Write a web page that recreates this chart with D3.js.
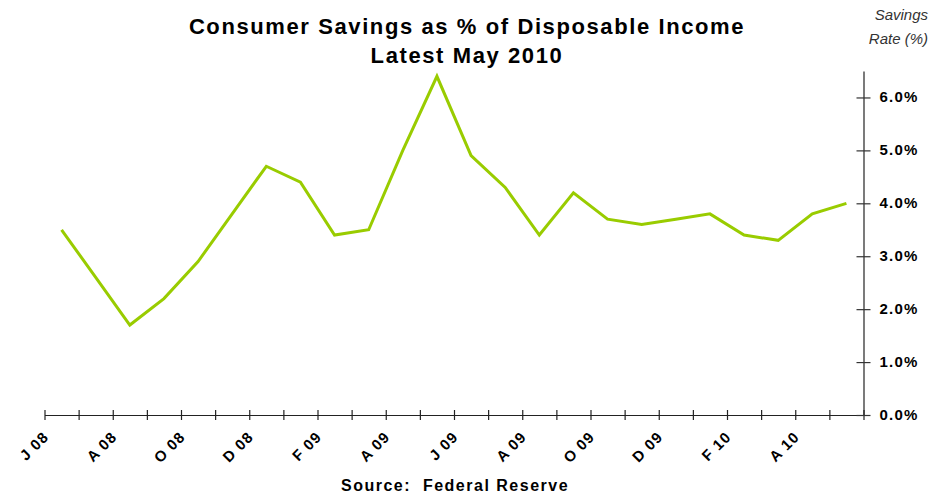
<!DOCTYPE html>
<html>
<head>
<meta charset="utf-8">
<script src="https://d3js.org/d3.v7.min.js"></script>
<style>
  body { margin: 0; background: #fff; font-family: Arial, 'Liberation Sans', sans-serif; }
</style>
</head>
<body>
<div id="chart"></div>
<script>
// monthly data, Jun 2008 - May 2010
const months = ["Jun 08","Jul 08","Aug 08","Sep 08","Oct 08","Nov 08","Dec 08","Jan 09","Feb 09","Mar 09","Apr 09","May 09",
                "Jun 09","Jul 09","Aug 09","Sep 09","Oct 09","Nov 09","Dec 09","Jan 10","Feb 10","Mar 10","Apr 10","May 10"];
const savingsRate = [3.5, 2.6, 1.7, 2.2, 2.9, 3.8, 4.7, 4.4, 3.4, 3.5, 5.0, 6.4,
                     4.9, 4.3, 3.4, 4.2, 3.7, 3.6, 3.7, 3.8, 3.4, 3.3, 3.8, 4.0];
const xLabels = ["J 08","A 08","O 08","D 08","F 09","A 09","J 09","A 09","O 09","D 09","F 10","A 10"];
const yTicks = [0, 1, 2, 3, 4, 5, 6];

const W = 931, H = 496;
const plot = {left: 44.5, right: 863.5, top: 71, bottom: 415};

const svg = d3.select("#chart").append("svg")
    .attr("width", W)
    .attr("height", H);

const x = d3.scaleBand()
    .domain(months)
    .range([plot.left, plot.right]);

const y = d3.scaleLinear()
    .domain([0, 6.5])
    .range([plot.bottom, plot.top]);

// x axis - ticks on month boundaries
const xb = d3.scaleLinear().domain([0, months.length]).range([plot.left, plot.right]);
svg.append("g")
    .attr("transform", `translate(0,${plot.bottom})`)
    .call(d3.axisBottom(xb).ticks(months.length).tickSize(0).tickFormat(""))
    .call(g => g.select(".domain").attr("stroke", "#222").attr("stroke-width", 1.2))
    .call(g => g.selectAll(".tick line").attr("y1", -5).attr("y2", 5).attr("stroke", "#222").attr("stroke-width", 1.2));

// month labels every other month
svg.append("g")
  .selectAll("text")
  .data(xLabels)
  .join("text")
    .attr("transform", (d, i) => `translate(${x(months[i * 2]) + x.bandwidth() / 2 - 12},${plot.bottom + 23}) rotate(-45)`)
    .attr("text-anchor", "end")
    .attr("font-size", 15)
    .attr("font-weight", "bold")
    .attr("letter-spacing", 1)
    .attr("fill", "#000")
    .text(d => d);

// y axis on right
svg.append("g")
    .attr("transform", `translate(${plot.right},0)`)
    .call(d3.axisRight(y).tickValues(yTicks).tickSize(0).tickFormat(""))
    .call(g => g.select(".domain").attr("stroke", "#222").attr("stroke-width", 1.2))
    .call(g => g.selectAll(".tick line").attr("x1", -7).attr("x2", 7).attr("stroke", "#333").attr("stroke-width", 1.2));

svg.append("g")
  .selectAll("text")
  .data(yTicks)
  .join("text")
    .attr("x", plot.right + 16)
    .attr("y", d => y(d) + 5)
    .attr("font-size", 15)
    .attr("font-weight", "bold")
    .attr("letter-spacing", 1.2)
    .attr("fill", "#000")
    .text(d => d.toFixed(1) + "%");

// line
const line = d3.line()
    .x((d, i) => x(months[i]) + x.bandwidth() / 2)
    .y(d => y(d));

svg.append("path")
    .datum(savingsRate)
    .attr("d", line)
    .attr("fill", "none")
    .attr("stroke", "#99cc00")
    .attr("stroke-width", 3)
    .attr("stroke-linejoin", "miter");

// titles
svg.append("text")
    .attr("x", 467).attr("y", 34)
    .attr("text-anchor", "middle")
    .attr("font-size", 22).attr("font-weight", "bold")
    .attr("letter-spacing", 1.6)
    .text("Consumer Savings as % of Disposable Income");
svg.append("text")
    .attr("x", 467).attr("y", 63)
    .attr("text-anchor", "middle")
    .attr("font-size", 22).attr("font-weight", "bold")
    .attr("letter-spacing", 1.6)
    .text("Latest May 2010");

svg.append("text")
    .attr("x", 928).attr("y", 20)
    .attr("text-anchor", "end")
    .attr("font-size", 15).attr("font-style", "italic").attr("fill", "#333")
    .text("Savings");
svg.append("text")
    .attr("x", 928).attr("y", 44)
    .attr("text-anchor", "end")
    .attr("font-size", 15).attr("font-style", "italic").attr("fill", "#333")
    .text("Rate (%)");

svg.append("text")
    .attr("x", 455).attr("y", 491)
    .attr("text-anchor", "middle")
    .attr("font-size", 16).attr("font-weight", "bold")
    .attr("letter-spacing", 1.5)
    .attr("xml:space", "preserve")
    .text("Source:  Federal Reserve");
</script>
</body>
</html>
